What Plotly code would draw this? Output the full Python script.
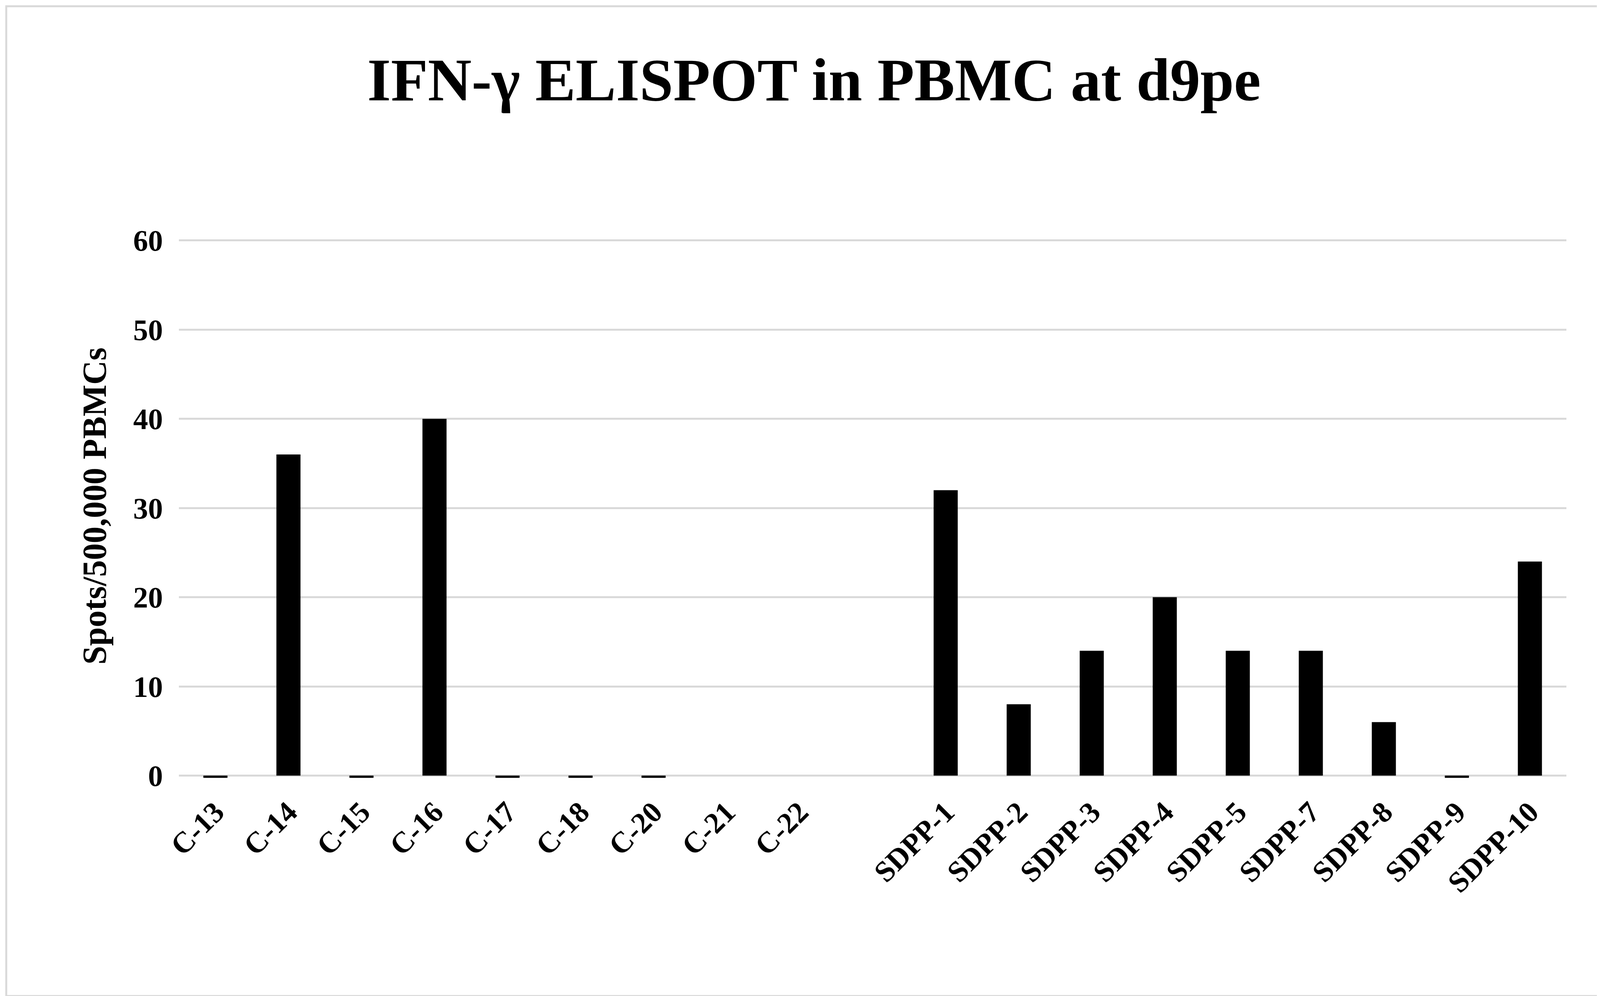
import plotly.graph_objects as go

categories = ["C-13","C-14","C-15","C-16","C-17","C-18","C-20","C-21","C-22"," ",
              "SDPP-1","SDPP-2","SDPP-3","SDPP-4","SDPP-5","SDPP-7","SDPP-8","SDPP-9","SDPP-10"]
values = [-0.25,36,-0.25,40,-0.25,-0.25,-0.25,None,None,None,
          32,8,14,20,14,14,6,-0.25,24]
yticks = [0,10,20,30,40,50,60]

W,H = 4152,2551
L,R,T,B = 450,150,585,560
pw, ph = W-L-R, H-T-B
font = "Liberation Serif"

fig = go.Figure(go.Bar(x=categories, y=values, marker=dict(color="black", line=dict(width=0)),
                       width=0.33, cliponaxis=False))
fig.update_layout(
    width=W, height=H, margin=dict(l=L,r=R,t=T,b=B),
    paper_bgcolor="white", plot_bgcolor="white", showlegend=False,
    title=dict(text="<b>IFN-γ ELISPOT in PBMC at d9pe</b>", x=0.5, xanchor="center",
               y=1-195/H, yanchor="middle", font=dict(family=font, size=155, color="black")),
    font=dict(family=font, color="black"),
    xaxis=dict(type="category", categoryorder="array", categoryarray=categories,
               tickangle=-45, showgrid=False,
               showline=False, ticks="", ticklabelstandoff=20),
    yaxis=dict(range=[-0.55,61], tickvals=yticks,
               showgrid=True, gridcolor="#d9d9d9", gridwidth=5, zeroline=True,
               zerolinecolor="#d9d9d9", zerolinewidth=5, showline=False, ticks="",
               ticklabelstandoff=40,
               title=dict(text="<b>Spots/500,000 PBMCs</b>", font=dict(size=86, family=font), standoff=40)),
)
fig.update_xaxes(tickfont=dict(size=76, family=font, weight="bold"))
fig.update_yaxes(tickfont=dict(size=76, family=font, weight="bold"))
x0 = (8-L)/pw; x1 = (W-8-L)/pw
y0 = 1-(H-8-T)/ph; y1 = 1+(T-8)/ph
fig.add_shape(type="rect", xref="paper", yref="paper", x0=x0, x1=x1, y0=y0, y1=y1,
              line=dict(color="#d9d9d9", width=5), layer="below")
fig.write_html("out.html")
